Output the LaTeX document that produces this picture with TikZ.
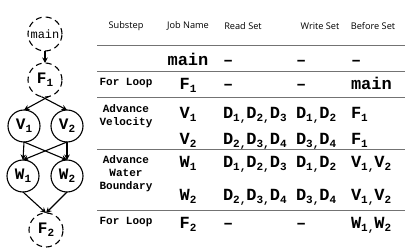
\documentclass[tikz,border=0pt]{standalone}
\usepackage{fontspec}
\setmainfont{Open Sans}
\setmonofont{Liberation Mono}
\usetikzlibrary{arrows.meta}
\definecolor{SchedInk}{gray}{0.0}
\definecolor{SchedRule}{gray}{0.45}
\newcommand\jobsub[1]{\raisebox{-3pt}{\fontsize{11}{11}\selectfont#1}}
\tikzset{
    sched/diagram/.style={
        x=1pt, y=-1pt,
        text=SchedInk,
        line join=round,
        >=Stealth,
        every node/.style={inner sep=0pt, outer sep=0pt}
    },
    sched/job/.style={
        circle, draw=SchedInk, line width=1.1pt, minimum size=32pt,
        font=\ttfamily\bfseries\fontsize{16}{16}\selectfont
    },
    sched/loop/.style={sched/job, minimum size=34pt, dash pattern=on 6pt off 4pt},
    sched/edge/.style={
        draw=SchedInk, line width=1.1pt,
        -{Stealth[length=5.5pt, width=5.5pt]}
    },
    sched/rule/.style={draw=SchedRule, line width=1pt},
    sched/head/.style={font=\fontsize{9.2}{11}\selectfont},
    sched/substep/.style={
        align=center, font=\ttfamily\bfseries\fontsize{11}{13}\selectfont
    },
    sched/name/.style={anchor=base, font=\ttfamily\bfseries\fontsize{17}{17}\selectfont},
    sched/cell/.style={anchor=base west, font=\ttfamily\bfseries\fontsize{17}{17}\selectfont}
}
\begin{document}
\begin{tikzpicture}[sched/diagram]
    \useasboundingbox (0,0) rectangle (415,248);
    % dependency graph
    \node[sched/loop, font=\ttfamily\fontsize{12}{12}\selectfont] (gmain) at (45,34) {main};
    \node[sched/loop] (gF1) at (45,80) {F\jobsub{1}};
    \node[sched/job] (gV1) at (24,126) {V\jobsub{1}};
    \node[sched/job] (gV2) at (67,126) {V\jobsub{2}};
    \node[sched/job] (gW1) at (23,176) {W\jobsub{1}};
    \node[sched/job] (gW2) at (67,176) {W\jobsub{2}};
    \node[sched/loop] (gF2) at (46,230) {F\jobsub{2}};
    \draw[sched/edge] (gmain.south) -- (gF1.north);
    \draw[sched/edge] (gF1.-78) -- (gV1.north);
    \draw[sched/edge] (gF1.-102) -- (gV2.north);
    \draw[sched/edge] (gV1.south) -- (gW1.north);
    \draw[sched/edge] (gV1.south) -- (gW2.north);
    \draw[sched/edge] (gV2.south) -- (gW2.north);
    \draw[sched/edge] (gV2.south) -- (gW1.north);
    \draw[sched/edge] (gW1.south) -- (gF2.north);
    \draw[sched/edge] (gW2.south) -- (gF2.north);
    % table rules
    \foreach \y in {46,72,98,150,211}
        \draw[sched/rule] (97,\y) -- (405,\y);
    % header
    \node[sched/head] (hStep) at (126,26) {Substep};
    \node[sched/head] (hJob) at (188,26) {Job Name};
    \node[sched/head] (hRead) at (243,26) {Read Set};
    \node[sched/head] (hWrite) at (320,26) {Write Set};
    \node[sched/head] (hBefore) at (373,26) {Before Set};
    % substeps
    \node[sched/substep] (sLoopA) at (126,83) {For Loop};
    \node[sched/substep] (sVel) at (126,116) {Advance\\Velocity};
    \node[sched/substep] (sWater) at (126,174) {Advance\\Water\\Boundary};
    \node[sched/substep] (sLoopB) at (126,222) {For Loop};
    % job names
    \node[sched/name] (jmain) at (188,66) {main};
    \node[sched/name] (jF1) at (188,90) {F\jobsub{1}};
    \node[sched/name] (jV1) at (188,119) {V\jobsub{1}};
    \node[sched/name] (jV2) at (188,145) {V\jobsub{2}};
    \node[sched/name] (jW1) at (188,168) {W\jobsub{1}};
    \node[sched/name] (jW2) at (188,201) {W\jobsub{2}};
    \node[sched/name] (jF2) at (188,229) {F\jobsub{2}};
    % read sets
    \node[sched/cell] (rmain) at (223,66) {–};
    \node[sched/cell] (rF1) at (223,90) {–};
    \node[sched/cell] (rV1) at (223,119) {D\jobsub{1,}D\jobsub{2,}D\jobsub{3}};
    \node[sched/cell] (rV2) at (223,145) {D\jobsub{2,}D\jobsub{3,}D\jobsub{4}};
    \node[sched/cell] (rW1) at (223,168) {D\jobsub{1,}D\jobsub{2,}D\jobsub{3}};
    \node[sched/cell] (rW2) at (223,201) {D\jobsub{2,}D\jobsub{3,}D\jobsub{4}};
    \node[sched/cell] (rF2) at (223,229) {–};
    % write sets
    \node[sched/cell] (wmain) at (296,66) {–};
    \node[sched/cell] (wF1) at (296,90) {–};
    \node[sched/cell] (wV1) at (296,119) {D\jobsub{1,}D\jobsub{2}};
    \node[sched/cell] (wV2) at (296,145) {D\jobsub{3,}D\jobsub{4}};
    \node[sched/cell] (wW1) at (296,168) {D\jobsub{1,}D\jobsub{2}};
    \node[sched/cell] (wW2) at (296,201) {D\jobsub{3,}D\jobsub{4}};
    \node[sched/cell] (wF2) at (296,229) {–};
    % before sets
    \node[sched/cell] (bmain) at (351,66) {–};
    \node[sched/cell] (bF1) at (351,90) {main};
    \node[sched/cell] (bV1) at (351,119) {F\jobsub{1}};
    \node[sched/cell] (bV2) at (351,145) {F\jobsub{1}};
    \node[sched/cell] (bW1) at (351,168) {V\jobsub{1,}V\jobsub{2}};
    \node[sched/cell] (bW2) at (351,201) {V\jobsub{1,}V\jobsub{2}};
    \node[sched/cell] (bF2) at (351,229) {W\jobsub{1,}W\jobsub{2}};
\end{tikzpicture}
\end{document}
